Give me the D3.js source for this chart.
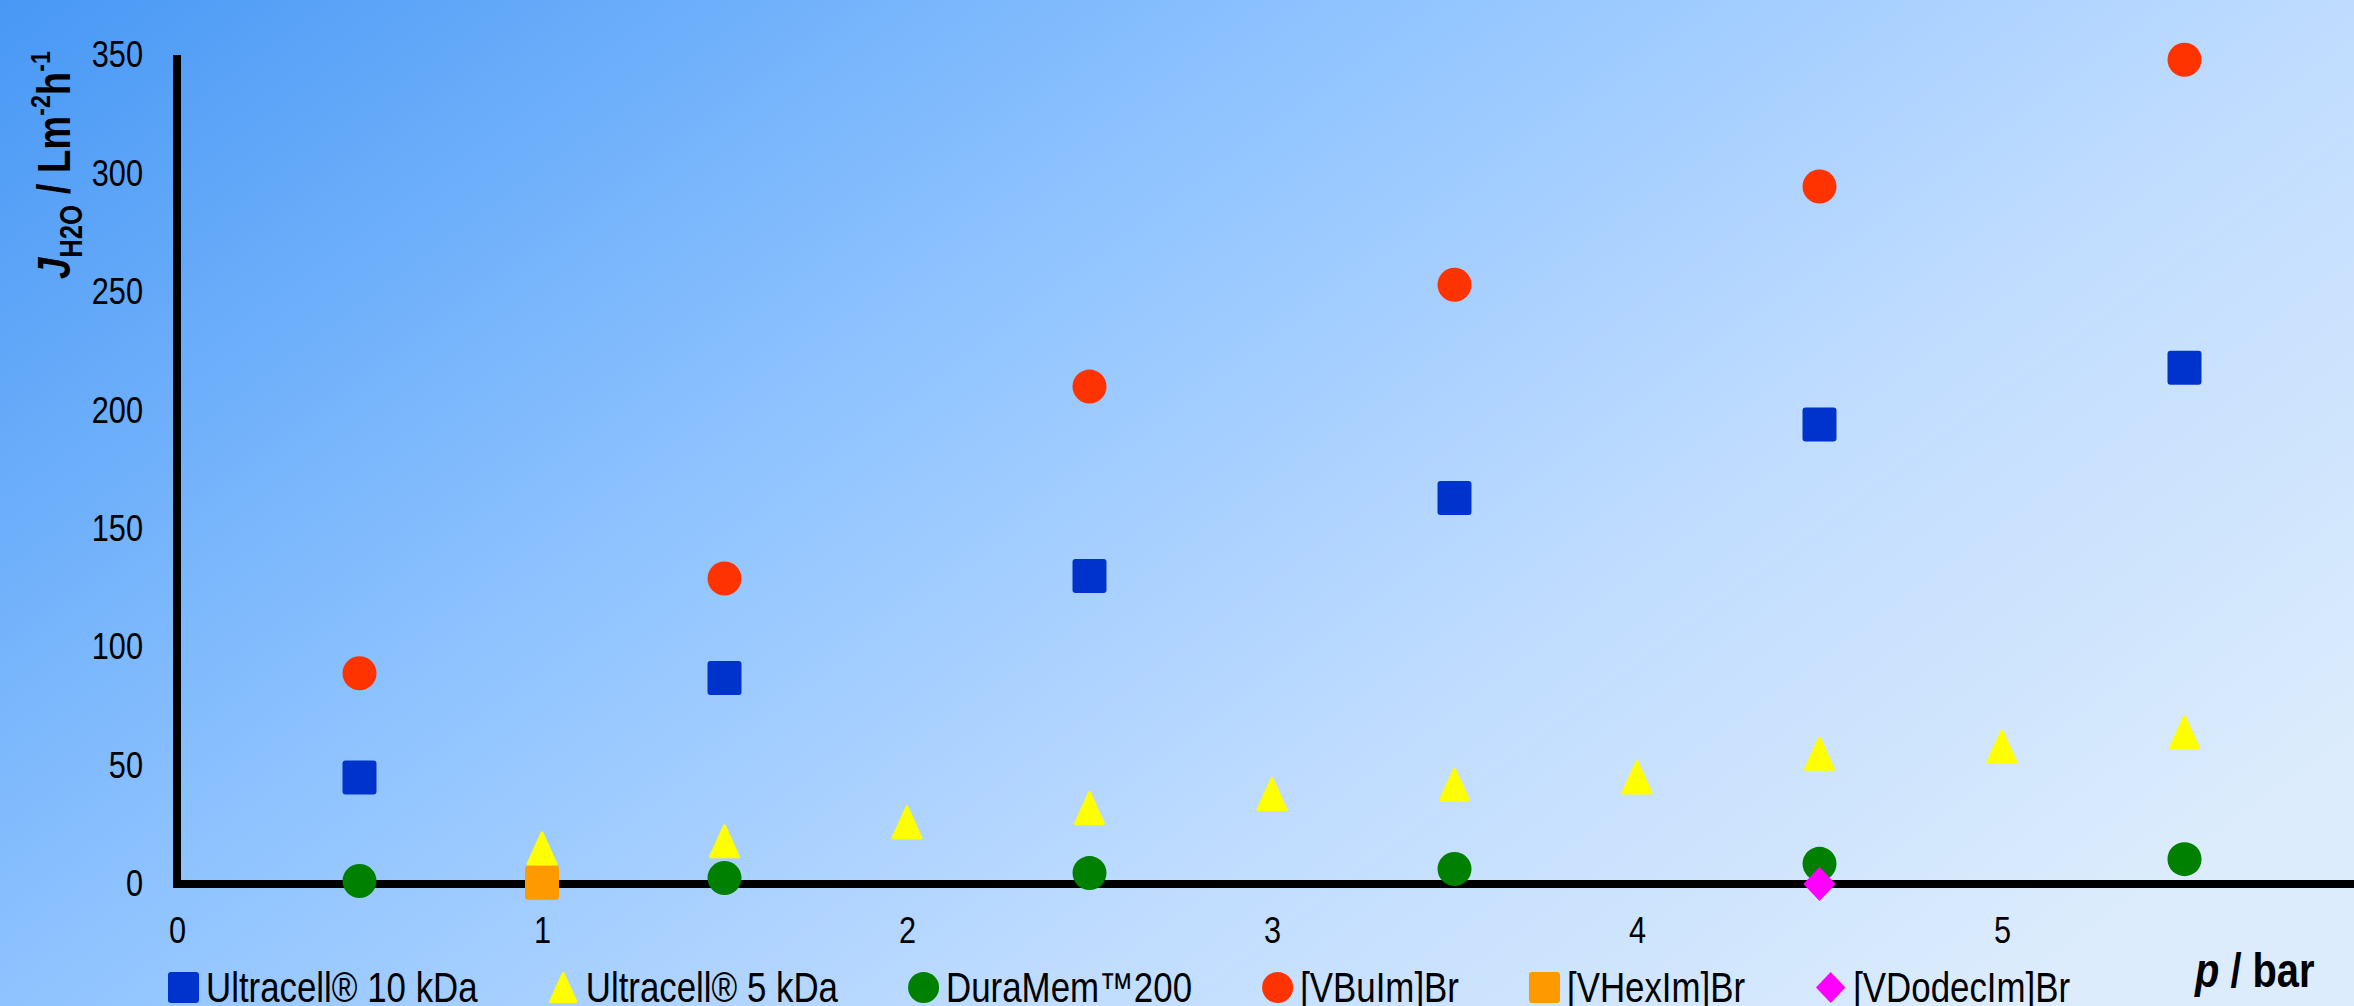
<!DOCTYPE html>
<html>
<head>
<meta charset="utf-8">
<script src="https://cdn.jsdelivr.net/npm/d3@7"></script>
<style>
  html, body { margin: 0; padding: 0; overflow: hidden; }
  svg { display: block; }
  .narrow { font-family: "Liberation Sans", Arial, sans-serif; }
</style>
</head>
<body>
<div id="chart"></div>
<script>
// ---------------- DATA ----------------
const xTicks = [0, 1, 2, 3, 4, 5];
const yTicks = [0, 50, 100, 150, 200, 250, 300, 350];

const seriesNames = ["Ultracell® 10 kDa", "Ultracell® 5 kDa", "DuraMem™200", "[VBuIm]Br", "[VHexIm]Br", "[VDodecIm]Br"];

const pUltracell10 = [0.5, 1.5, 2.5, 3.5, 4.5, 5.5];
const jUltracell10 = [45, 87, 130, 163, 194, 218];

const pUltracell5 = [1, 1.5, 2, 2.5, 3, 3.5, 4, 4.5, 5, 5.5];
const jUltracell5 = [15, 18, 26, 32, 38, 42, 45, 55, 58, 64];

const pDuraMem = [0.5, 1.5, 2.5, 3.5, 4.5, 5.5];
const jDuraMem = [1.3, 2.5, 4.6, 6.3, 8.5, 10.5];

const pVBuIm = [0.5, 1.5, 2.5, 3.5, 4.5, 5.5];
const jVBuIm = [89, 129, 210, 253, 294.5, 348];

const pVHexIm = [1];
const jVHexIm = [0.5];

const pVDodecIm = [4.5];
const jVDodecIm = [0];

// ---------------- STYLE ----------------
const W = 2354, H = 1006;
const K = 0.83; // horizontal condensing of the narrow typeface
const colors = ["#0033cc", "#ffff00", "#008000", "#ff3300", "#ff9900", "#ff00ff"];
const shapes = ["square", "triangle", "circle", "circle", "square", "diamond"];
const series = [
  [pUltracell10, jUltracell10],
  [pUltracell5, jUltracell5],
  [pDuraMem, jDuraMem],
  [pVBuIm, jVBuIm],
  [pVHexIm, jVHexIm],
  [pVDodecIm, jVDodecIm]
].map((d, i) => ({
  name: seriesNames[i], color: colors[i], shape: shapes[i],
  points: d[0].map((p, k) => ({ p, j: d[1][k] }))
}));

function condense(sel) {
  sel.each(function () {
    const el = d3.select(this);
    const xv = +(el.attr("x") || 0);
    el.attr("x", xv / K);
    const tr = el.attr("transform") || "";
    el.attr("transform", (tr + ` scale(${K},1)`).trim());
  });
}

const svg = d3.select("#chart").append("svg").attr("width", W).attr("height", H);

// background gradient
const defs = svg.append("defs");
const grad = defs.append("linearGradient").attr("id", "bg")
  .attr("gradientUnits", "userSpaceOnUse")
  .attr("x1", 0).attr("y1", 0).attr("x2", 1206).attr("y2", 1613);
[["0", "#4898f5"], ["0.4", "#8ec3ff"], ["0.7", "#bfdcff"], ["1", "#dcecfc"]]
  .forEach(s => grad.append("stop").attr("offset", s[0]).attr("stop-color", s[1]));
svg.append("rect").attr("width", W).attr("height", H).attr("fill", "url(#bg)");

// scales
const x = d3.scaleLinear().domain([0, 5]).range([177, 2002]);
const y = d3.scaleLinear().domain([0, 350]).range([884, 55]);

// axes
const yAxis = svg.append("g").attr("transform", `translate(${x(0)},0)`)
  .call(d3.axisLeft(y).tickValues(yTicks).tickSize(0).tickPadding(34).tickFormat(d3.format("d")));
yAxis.select(".domain").remove();
yAxis.selectAll("text").attr("class", "narrow").attr("font-size", 37).attr("fill", "#000")
  .attr("font-family", null).call(condense);

const xAxis = svg.append("g").attr("transform", `translate(0,${y(0)})`)
  .call(d3.axisBottom(x).tickValues(xTicks).tickSize(0).tickPadding(33).tickFormat(d3.format("d")));
xAxis.select(".domain").remove();
xAxis.selectAll("text").attr("class", "narrow").attr("font-size", 37).attr("fill", "#000")
  .attr("font-family", null).call(condense);

svg.append("line").attr("x1", x(0)).attr("x2", x(0)).attr("y1", y(350)).attr("y2", y(0))
  .attr("stroke", "#000").attr("stroke-width", 8);
svg.append("line").attr("x1", x(0) - 4).attr("x2", W).attr("y1", y(0)).attr("y2", y(0))
  .attr("stroke", "#000").attr("stroke-width", 8);

// marker drawing
function drawMarker(g, shape, color, s) {
  const h = s / 2;
  if (shape === "square") {
    g.append("rect").attr("x", -h).attr("y", -h).attr("width", s).attr("height", s)
      .attr("rx", 3).attr("fill", color);
  } else if (shape === "circle") {
    g.append("ellipse").attr("rx", h).attr("ry", h).attr("fill", color);
  } else if (shape === "triangle") {
    const t = h - 1.5;
    g.append("path").attr("d", `M0,${-t}L${t * 0.9},${t}L${-t * 0.9},${t}Z`)
      .attr("fill", color).attr("stroke", color).attr("stroke-width", 3).attr("stroke-linejoin", "round");
  } else if (shape === "diamond") {
    g.append("path").attr("d", `M0,${-h}L${h * 0.95},0L0,${h}L${-h * 0.95},0Z`).attr("fill", color);
  }
}

// points
series.forEach(sr => {
  const g = svg.append("g");
  sr.points.forEach(pt => {
    const m = g.append("g").attr("transform", `translate(${x(pt.p)},${y(pt.j)})`);
    drawMarker(m, sr.shape, sr.color, 34);
  });
});

// y-axis title
const yt = svg.append("text").attr("class", "narrow")
  .attr("transform", "translate(70,279) rotate(-90)")
  .attr("font-size", 46).attr("font-weight", "bold").attr("fill", "#000");
yt.append("tspan").attr("font-style", "italic").text("J");
yt.append("tspan").attr("font-size", 31).attr("dy", 12).text("H2O");
yt.append("tspan").attr("dy", -12).text(" / Lm");
yt.append("tspan").attr("font-size", 28).attr("dy", -20).text("-2");
yt.append("tspan").attr("dy", 20).text("h");
yt.append("tspan").attr("font-size", 28).attr("dy", -20).text("-1");
yt.call(condense);

// x-axis title
const xt = svg.append("text").attr("class", "narrow")
  .attr("x", 2195).attr("y", 987)
  .attr("font-size", 48).attr("font-weight", "bold").attr("fill", "#000");
xt.append("tspan").attr("font-style", "italic").text("p");
xt.append("tspan").text(" / bar");
xt.call(condense);

// legend
let lx = 168;
series.forEach(sr => {
  const m = svg.append("g").attr("transform", `translate(${lx + 15.5},987.5)`);
  drawMarker(m, sr.shape, sr.color, 31);
  const t = svg.append("text").attr("class", "narrow")
    .attr("x", lx + 38).attr("y", 1002)
    .attr("font-size", 42).attr("fill", "#000").text(sr.name);
  const len = t.node().getComputedTextLength() * K;
  t.call(condense);
  lx += 38 + len + 70;
});
</script>
</body>
</html>
